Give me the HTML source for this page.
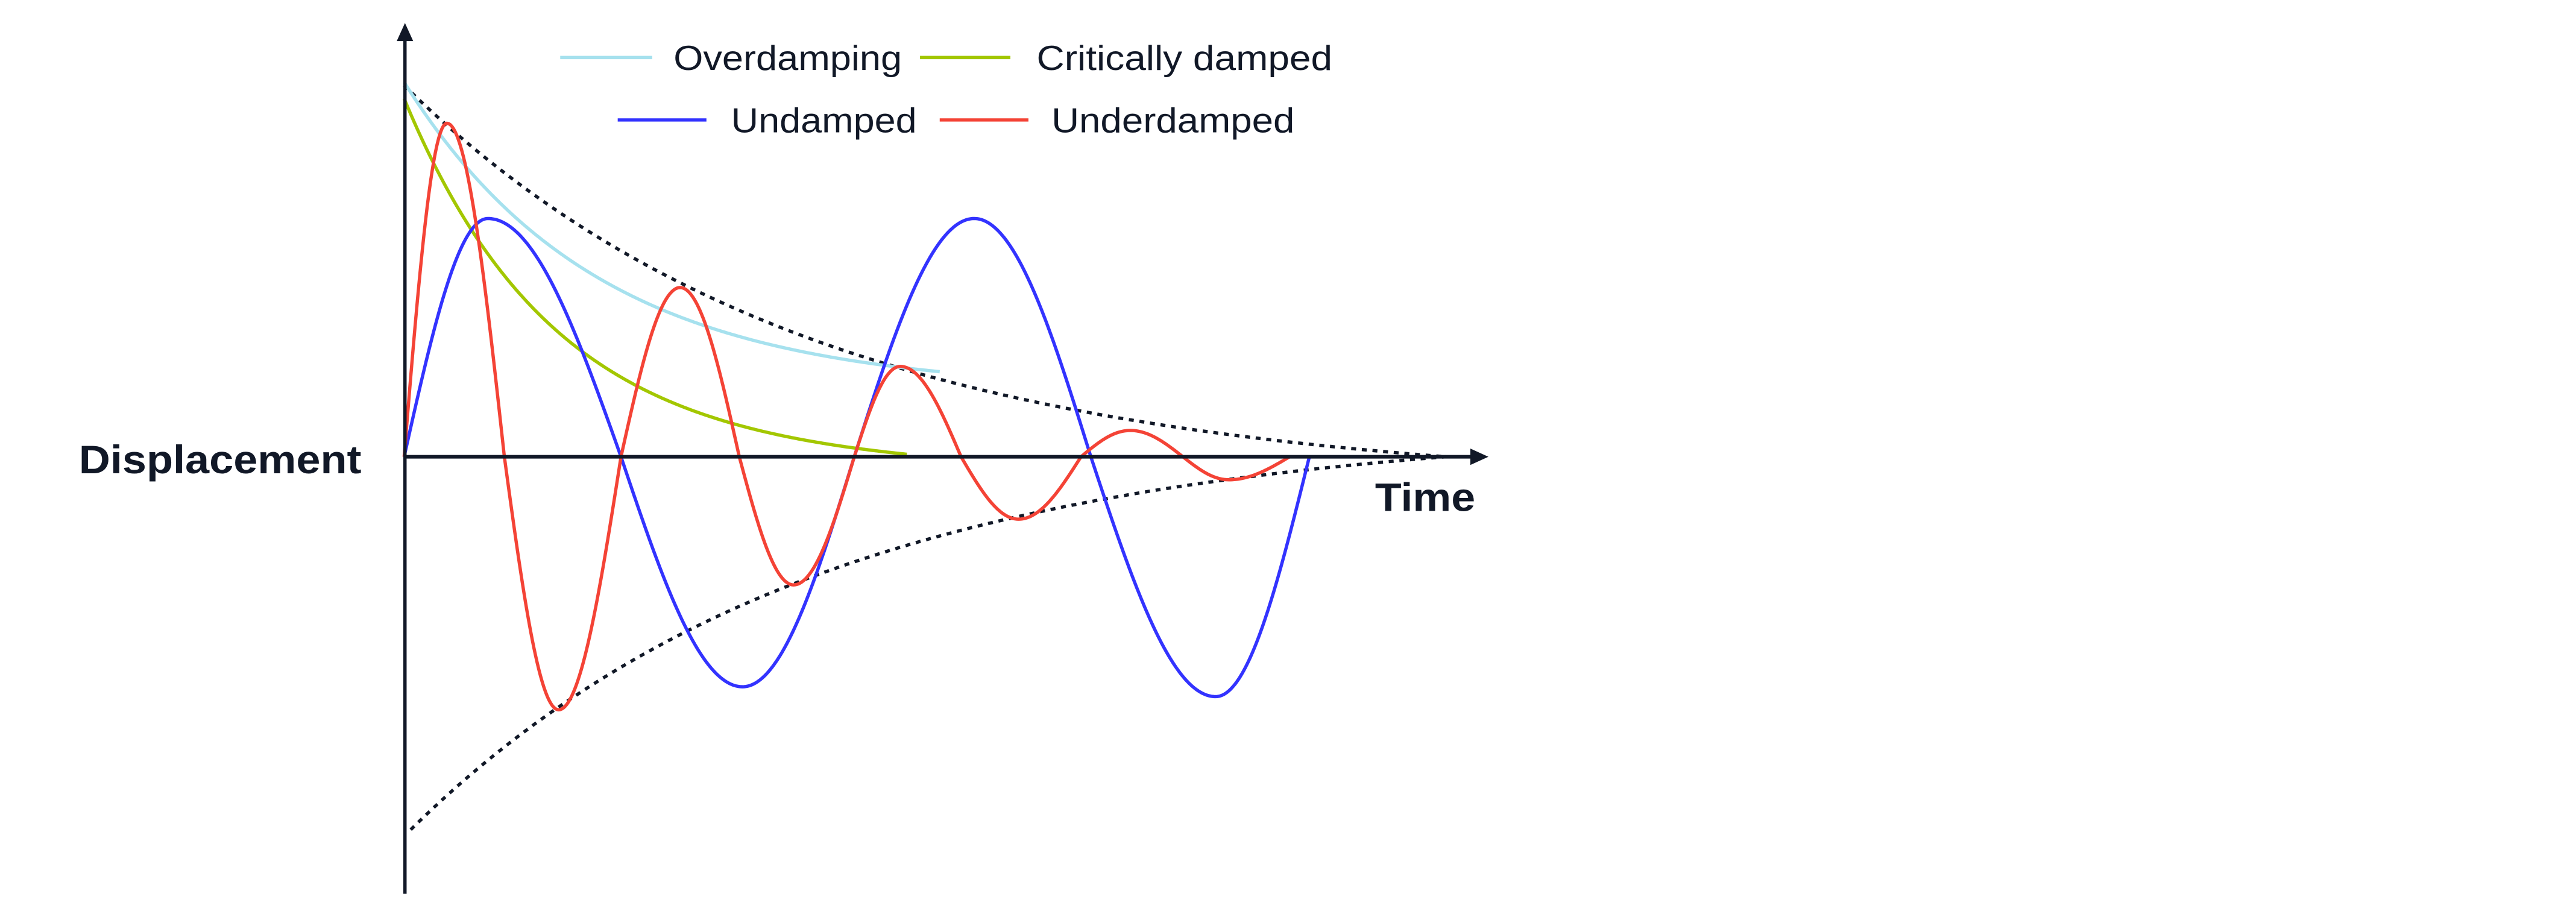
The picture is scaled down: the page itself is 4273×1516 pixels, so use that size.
<!DOCTYPE html>
<html><head><meta charset="utf-8"><style>
html,body{margin:0;padding:0;background:#fff;}
svg{display:block;}
text{font-family:"Liberation Sans",Arial,sans-serif;fill:#111827;}
</style></head><body>
<svg id="s" width="4273" height="1516" viewBox="0 0 1568 556.3" xmlns="http://www.w3.org/2000/svg">
<rect width="1568" height="556.3" fill="#fff"/>
<path id="envU" fill="none" stroke="#111827" stroke-width="2" stroke-dasharray="3 3.5"/>
<path id="envL" fill="none" stroke="#111827" stroke-width="2" stroke-dasharray="3 3.5"/>
<path id="over" fill="none" stroke="#a6e1ee" stroke-width="2"/>
<path id="crit" fill="none" stroke="#a3c700" stroke-width="2"/>
<path id="und" fill="none" stroke="#3333ff" stroke-width="2"/>
<path id="under" fill="none" stroke="#f44336" stroke-width="2"/>
<line x1="246.5" y1="24" x2="246.5" y2="544" stroke="#111827" stroke-width="2"/>
<polygon points="246.5,14 241.5,25 251.5,25" fill="#111827"/>
<line x1="246" y1="278" x2="896" y2="278" stroke="#111827" stroke-width="2.2"/>
<polygon points="906,278 895,273 895,283" fill="#111827"/>
<text x="48" y="288" font-size="24" font-weight="bold" textLength="172" lengthAdjust="spacingAndGlyphs">Displacement</text>
<text x="837" y="311" font-size="24" font-weight="bold" textLength="61" lengthAdjust="spacingAndGlyphs">Time</text>
<line x1="341" y1="35" x2="397" y2="35" stroke="#a6e1ee" stroke-width="2"/>
<text x="410" y="42.5" font-size="21" textLength="139" lengthAdjust="spacingAndGlyphs">Overdamping</text>
<line x1="560" y1="35" x2="615" y2="35" stroke="#a3c700" stroke-width="2"/>
<text x="631" y="42.5" font-size="21" textLength="180" lengthAdjust="spacingAndGlyphs">Critically damped</text>
<line x1="376" y1="73" x2="430" y2="73" stroke="#3333ff" stroke-width="2"/>
<text x="445" y="80.5" font-size="21" textLength="113" lengthAdjust="spacingAndGlyphs">Undamped</text>
<line x1="572" y1="73" x2="626" y2="73" stroke="#f44336" stroke-width="2"/>
<text x="640" y="80.5" font-size="21" textLength="148" lengthAdjust="spacingAndGlyphs">Underdamped</text>
</svg>
<script>
var y0=278;
function path(f,a,b){var d="";for(var x=a;x<=b+0.001;x+=1){d+=(d?"L":"M")+x.toFixed(1)+","+f(x).toFixed(2);}return d;}
function set(id,d){document.getElementById(id).setAttribute("d",d);}
function env(A,x0,x1,k){var T=x1-x0,e=Math.exp(-k*T);return function(x){var t=x-x0;return A*(Math.exp(-k*t)-e)/(1-e);};}
var eu=env(226,246,880,0.004), el=env(227,250,880,0.004);
set("envU",path(function(x){return y0-eu(x);},246,880));
set("envL",path(function(x){return y0+el(x);},250,880));
set("over",path(function(x){var t=x-246;return y0-(40+188*Math.exp(-0.0085*t));},246,572));
set("crit",path(function(x){var t=x-246;return y0-(218*Math.exp(-0.011*t)-6*t/306);},246,552));
function pieces(z,A,P){return function(x){for(var i=0;i<z.length-1;i++){if(x>=z[i]&&x<=z[i+1]){var p=P[i],ph;if(x<=p)ph=(Math.PI/2)*(x-z[i])/(p-z[i]);else ph=Math.PI/2+(Math.PI/2)*(x-p)/(z[i+1]-p);return y0-A[i]*Math.sin(ph);}}return y0;};}
set("under",path(pieces([246,307,378,450,520,585,658,720,785],[203,-154,103,-78,55,-38,16,-14],[272,340,414,483,548,620,688,748]),246,785));
set("und",path(pieces([246,378,520,664,797],[145,-140,145,-146],[297,452,593,740]),246,797));
</script>
</body></html>
